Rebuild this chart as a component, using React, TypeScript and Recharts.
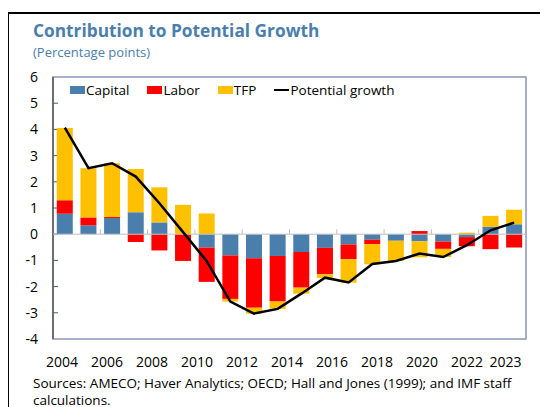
import React from 'react';
import {
  ComposedChart,
  Bar,
  Line,
  XAxis,
  YAxis,
  ReferenceLine,
  ReferenceArea,
} from 'recharts';

const years = ['2004', '2005', '2006', '2007', '2008', '2009', '2010', '2011', '2012', '2013', '2014', '2015', '2016', '2017', '2018', '2019', '2020', '2021', '2022', '2023'];
const capital = [0.78, 0.34, 0.62, 0.84, 0.45, 0.0, -0.51, -0.81, -0.92, -0.83, -0.68, -0.52, -0.39, -0.21, -0.25, -0.27, -0.28, -0.11, 0.28, 0.38];
const labor = [0.52, 0.30, 0.04, -0.30, -0.62, -1.02, -1.31, -1.66, -1.89, -1.74, -1.36, -1.01, -0.56, -0.17, 0.0, 0.12, -0.28, -0.35, -0.57, -0.51];
const tfp = [2.75, 1.88, 2.05, 1.65, 1.34, 1.12, 0.79, -0.10, -0.23, -0.28, -0.23, -0.14, -0.90, -0.77, -0.77, -0.61, -0.31, 0.06, 0.42, 0.55];
const potential = [4.07, 2.52, 2.71, 2.20, 1.18, 0.08, -1.03, -2.57, -3.03, -2.85, -2.27, -1.66, -1.84, -1.14, -1.02, -0.74, -0.87, -0.42, 0.15, 0.44];

const yTicks = [-4, -3, -2, -1, 0, 1, 2, 3, 4, 5, 6];
const xLabelYears = [2004, 2006, 2008, 2010, 2012, 2014, 2016, 2018, 2020, 2022, 2023];

const seriesNames = { capital: 'Capital', labor: 'Labor', tfp: 'TFP', potential: 'Potential growth' };

const data = years.map((year, i) => ({
  year,
  yearNum: Number(year),
  capital: capital[i],
  labor: labor[i],
  tfp: tfp[i],
  potential: potential[i],
}));

const FONT = '"Open Sans", sans-serif';
const C_CAPITAL = '#4A7EAD';
const C_LABOR = '#FF0000';
const C_TFP = '#FFC000';
const C_FRAME = '#8A96B8';
const C_AXIS = '#595959';
const C_TITLE = '#4A7EAD';

const Frame = (props: any) => {
  const { x, y, width, height } = props;
  if ([x, y, width, height].some((v) => v == null || Number.isNaN(v))) return null;
  const n = yTicks.length - 1;
  const marks = [];
  for (let k = 1; k < n; k++) {
    const yy = y + (k * height) / n;
    marks.push(<line key={k} x1={x} x2={x + 5} y1={yy} y2={yy} stroke={C_AXIS} strokeWidth={1} />);
  }
  return (
    <g>
      <rect x={x} y={y} width={width} height={height} fill="none" stroke={C_FRAME} strokeWidth={1.5} />
      <line x1={x} x2={x} y1={y} y2={y + height} stroke={C_AXIS} strokeWidth={1.5} />
      {marks}
    </g>
  );
};

const ZeroLine = (props: any) => {
  const x1 = props.x1 ?? props.points?.[0]?.x;
  const x2 = props.x2 ?? props.points?.[1]?.x;
  const y = props.y1 ?? props.points?.[0]?.y;
  if (x1 == null || x2 == null || y == null) return null;
  const n = years.length;
  const step = (x2 - x1) / n;
  const marks = [];
  for (let k = 2; k < n; k += 2) {
    const x = x1 + k * step;
    marks.push(<line key={k} x1={x} x2={x} y1={y} y2={y - 5} stroke="#BFBFBF" strokeWidth={1} />);
  }
  return (
    <g>
      <line x1={x1} x2={x2} y1={y} y2={y} stroke="#BFBFBF" strokeWidth={1} />
      {marks}
    </g>
  );
};

const XTick = (props: any) => {
  const { x, y, payload } = props;
  const last = payload.value === xLabelYears[xLabelYears.length - 1];
  return (
    <text x={x} y={y} dy={28} textAnchor={last ? 'start' : 'middle'} fontSize={14} fontFamily={FONT} fill="#000">
      {payload.value}
    </text>
  );
};

const LegendItem = ({ color, label, line }: { color: string; label: string; line?: boolean }) => (
  <div style={{ display: 'flex', alignItems: 'center', marginRight: line ? 0 : 18 }}>
    <div
      style={{
        width: 15,
        height: line ? 2 : 8,
        background: color,
        marginRight: 1,
      }}
    />
    <span>{label}</span>
  </div>
);

export default function App() {
  return (
    <div style={{ position: 'relative', width: 548, height: 407, margin: '-8px 0 0 -8px', overflow: 'hidden', background: '#fff' }}>
      <svg width={548} height={407} style={{ position: 'absolute', left: 0, top: 0 }}>
        <rect x={8} y={13} width={700} height={500} fill="#fff" stroke="#000" strokeWidth={2} />
        <text x={33} y={37} fontFamily={FONT} fontWeight={700} fontSize={17.3} fill={C_TITLE}>
          Contribution to Potential Growth
        </text>
        <text x={33} y={57} fontFamily={FONT} fontSize={13} fill={C_TITLE}>
          (Percentage points)
        </text>
        <text x={33} y={388} fontFamily={FONT} fontSize={13.5} fill="#000">
          Sources: AMECO; Haver Analytics; OECD; Hall and Jones (1999); and IMF staff
        </text>
        <text x={33} y={405} fontFamily={FONT} fontSize={13.5} fill="#000">
          calculations.
        </text>
      </svg>
      <div style={{ position: 'absolute', left: 0, top: 0 }}>
        <ComposedChart
          width={548}
          height={407}
          data={data}
          stackOffset="sign"
          barCategoryGap="16%"
          margin={{ top: 77, right: 22, bottom: 38, left: 13 }}
        >
          <XAxis
            xAxisId="lab"
            dataKey="yearNum"
            type="number"
            domain={[2003.6, 2024.62]}
            ticks={xLabelYears}
            allowDataOverflow
            height={30}
            tickSize={0}
            tickMargin={0}
            tickLine={false}
            tick={<XTick />}
            axisLine={false}
            interval={0}
          />
          <XAxis xAxisId="cat" dataKey="year" hide height={0} />
          <YAxis
            yAxisId="left"
            domain={[-4, 6]}
            ticks={yTicks}
            interval={0}
            width={40}
            tickSize={0}
            tickMargin={15}
            tickLine={false}
            axisLine={false}
            tick={{ fontSize: 14, fontFamily: FONT, fill: '#000' }}
          />
          <ReferenceArea xAxisId="cat" yAxisId="left" y1={-4} y2={6} shape={<Frame />} />
          <ReferenceLine xAxisId="cat" yAxisId="left" y={0} shape={<ZeroLine />} />
          <Bar xAxisId="cat" yAxisId="left" dataKey="capital" name={seriesNames.capital} stackId="a" fill={C_CAPITAL} isAnimationActive={false} />
          <Bar xAxisId="cat" yAxisId="left" dataKey="labor" name={seriesNames.labor} stackId="a" fill={C_LABOR} isAnimationActive={false} />
          <Bar xAxisId="cat" yAxisId="left" dataKey="tfp" name={seriesNames.tfp} stackId="a" fill={C_TFP} isAnimationActive={false} />
          <Line
            xAxisId="cat"
            yAxisId="left"
            dataKey="potential"
            name={seriesNames.potential}
            type="linear"
            stroke="#000"
            strokeWidth={2.5}
            dot={false}
            activeDot={false}
            isAnimationActive={false}
          />
        </ComposedChart>
      </div>
      <div
        style={{
          position: 'absolute',
          left: 70,
          top: 80,
          display: 'flex',
          alignItems: 'center',
          fontFamily: FONT,
          fontSize: 13.5,
          color: '#000',
          lineHeight: '20px',
        }}
      >
        <LegendItem color={C_CAPITAL} label={seriesNames.capital} />
        <LegendItem color={C_LABOR} label={seriesNames.labor} />
        <LegendItem color={C_TFP} label={seriesNames.tfp} />
        <LegendItem color="#000" label={seriesNames.potential} line />
      </div>
    </div>
  );
}
